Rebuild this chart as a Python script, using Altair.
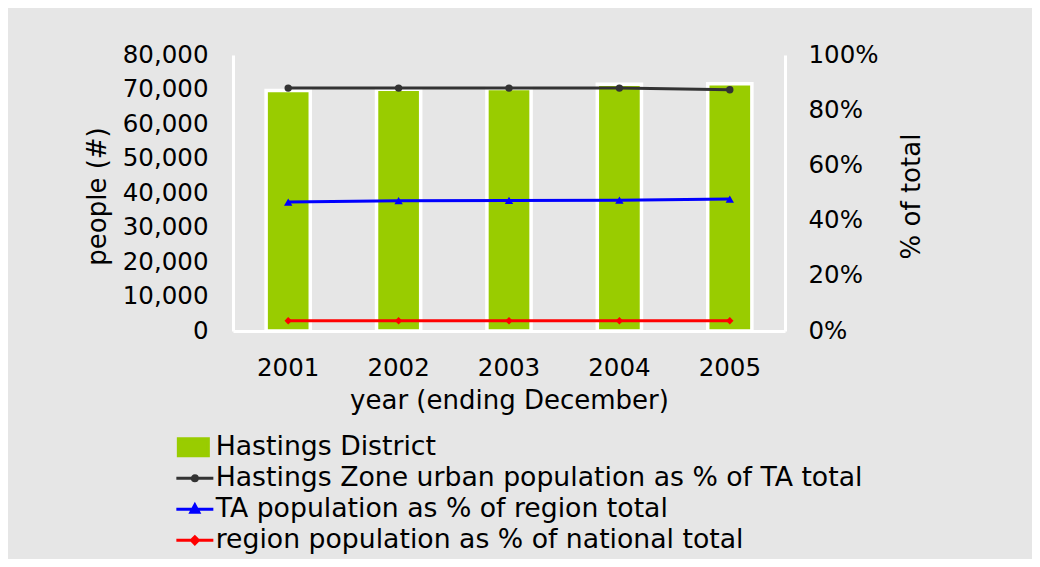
import altair as alt
import pandas as pd

years = ["2001", "2002", "2003", "2004", "2005"]
district_pop = [69700, 70100, 70300, 71500, 71700]
zone_pct = [0.880, 0.880, 0.880, 0.880, 0.874]
ta_pct = [0.467, 0.472, 0.473, 0.474, 0.478]
region_pct = [0.037, 0.037, 0.037, 0.037, 0.037]

s_bar = "Hastings District"
s_zone = "Hastings Zone urban population as % of TA total"
s_ta = "TA population as % of region total"
s_reg = "region population as % of national total"
series = [s_bar, s_zone, s_ta, s_reg]
colors = ["#99cc00", "#333333", "#0000ff", "#ff0000"]

bars_df = pd.DataFrame({"year": years, "value": district_pop, "series": s_bar})
lines_df = pd.concat([
    pd.DataFrame({"year": years, "pct": zone_pct, "series": s_zone}),
    pd.DataFrame({"year": years, "pct": ta_pct, "series": s_ta}),
    pd.DataFrame({"year": years, "pct": region_pct, "series": s_reg}),
])

FONT = "DejaVu Sans"

shape_expr = (
    f"datum.value === '{s_bar}' ? 'M-0.8,-0.85H2.2V0.85H-0.8Z' : "
    f"datum.value === '{s_zone}' ? 'M-1,0H2.7M0.6,0A0.25,0.25 0 1,0 1.1,0A0.25,0.25 0 1,0 0.6,0' : "
    f"datum.value === '{s_ta}' ? 'M-1,0H2.7M0.85,-0.45L1.25,0.3L0.45,0.3Z' : "
    "'M-1,0H2.7M0.85,-0.35L1.2,0L0.85,0.35L0.5,0Z'"
)
fill_expr = "scale('color', datum.value)"
stroke_expr = f"datum.value === '{s_bar}' ? '#ffffff' : scale('color', datum.value)"

legend = alt.Legend(
    title=None,
    orient="none",
    legendX=-60,
    legendY=379,
    direction="vertical",
    labelFont=FONT,
    labelFontSize=26.7,
    labelColor="#000000",
    labelLimit=800,
    symbolSize=400,
    symbolStrokeWidth=3,
    symbolOpacity=1,
    labelOffset=16,
    rowPadding=3,
    symbolType=alt.ExprRef(expr=shape_expr),
    symbolFillColor=alt.ExprRef(expr=fill_expr),
    symbolStrokeColor=alt.ExprRef(expr=stroke_expr),
)

color = alt.Color(
    "series:N",
    scale=alt.Scale(domain=series, range=colors),
    sort=series,
    legend=legend,
)

x = alt.X(
    "year:N",
    scale=alt.Scale(paddingInner=0.6, paddingOuter=0.3),
    axis=alt.Axis(
        title="year (ending December)",
        labelAngle=0,
        ticks=False,
        tickSize=0,
        labelPadding=25,
        titlePadding=8,
        domainColor="#ffffff",
        domainWidth=3,
        grid=False,
    ),
)

bars = alt.Chart(bars_df).mark_bar(stroke="#ffffff", strokeWidth=3.5).encode(
    x=x,
    y=alt.Y(
        "value:Q",
        scale=alt.Scale(domain=[0, 80000], nice=False),
        axis=alt.Axis(
            title="people (#)",
            values=[0, 10000, 20000, 30000, 40000, 50000, 60000, 70000, 80000],
            format=",.0f",
            ticks=False,
            tickSize=0,
            labelPadding=25,
            titlePadding=12,
            titleY=141,
            domainColor="#ffffff",
            domainWidth=3,
            grid=False,
        ),
    ),
    color=color,
)

y_pct = alt.Y(
    "pct:Q",
    scale=alt.Scale(domain=[0, 1], nice=False),
    axis=alt.Axis(
        title="% of total",
        orient="right",
        values=[0, 0.2, 0.4, 0.6, 0.8, 1.0],
        format=".0%",
        ticks=False,
        tickSize=0,
        labelPadding=23,
        titlePadding=46,
        titleAngle=270,
        titleY=141,
        domainColor="#ffffff",
        domainWidth=3,
        grid=False,
    ),
)

lines = alt.Chart(lines_df).mark_line(strokeWidth=3).encode(
    x=x, y=y_pct, color=color
)

def pts(name, shape, size):
    return alt.Chart(lines_df).transform_filter(
        alt.datum.series == name
    ).mark_point(shape=shape, filled=True, size=size, opacity=1).encode(
        x=x, y=y_pct, color=color
    )

points = pts(s_zone, "circle", 55) + pts(s_ta, "triangle-up", 70) + pts(s_reg, "diamond", 55)

right = alt.layer(lines, points)

chart = alt.layer(bars, right).resolve_scale(y="independent").properties(
    width=552,
    height=276,
    background="#e6e6e6",
    padding={"left": 225, "top": 47, "right": 247, "bottom": 228},
    autosize=alt.AutoSizeParams(type="none"),
).configure_view(stroke=None).configure_axis(
    labelFont=FONT,
    labelFontSize=24.5,
    labelColor="#000000",
    titleFont=FONT,
    titleFontSize=26,
    titleFontWeight="normal",
    titleColor="#000000",
)

chart.save("out.html", embed_options={"renderer": "svg", "actions": False})
